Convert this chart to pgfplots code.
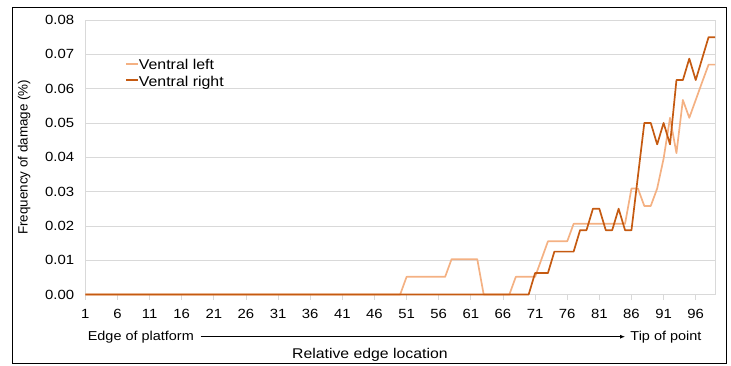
\documentclass[border=0pt]{standalone}
\usepackage{pgfplots}
\pgfplotsset{compat=1.18}
\usepackage{pgfplotstable}
\usepackage{fontspec}
\setmainfont{Liberation Sans}[FakeStretch=1.12]
\newfontfamily\ylabfont{Liberation Sans}
\usetikzlibrary{arrows.meta}
\definecolor{lightor}{HTML}{F4B183}
\definecolor{darkor}{HTML}{C55A11}
\definecolor{gridc}{HTML}{D9D9D9}

\pgfplotstableread{
x left right
1 0 0
2 0 0
3 0 0
4 0 0
5 0 0
6 0 0
7 0 0
8 0 0
9 0 0
10 0 0
11 0 0
12 0 0
13 0 0
14 0 0
15 0 0
16 0 0
17 0 0
18 0 0
19 0 0
20 0 0
21 0 0
22 0 0
23 0 0
24 0 0
25 0 0
26 0 0
27 0 0
28 0 0
29 0 0
30 0 0
31 0 0
32 0 0
33 0 0
34 0 0
35 0 0
36 0 0
37 0 0
38 0 0
39 0 0
40 0 0
41 0 0
42 0 0
43 0 0
44 0 0
45 0 0
46 0 0
47 0 0
48 0 0
49 0 0
50 0 0
51 0.00515 0
52 0.00515 0
53 0.00515 0
54 0.00515 0
55 0.00515 0
56 0.00515 0
57 0.00515 0
58 0.0103 0
59 0.0103 0
60 0.0103 0
61 0.0103 0
62 0.0103 0
63 0 0
64 0 0
65 0 0
66 0 0
67 0 0
68 0.00515 0
69 0.00515 0
70 0.00515 0
71 0.00515 0.00625
72 0.0103 0.00625
73 0.0155 0.00625
74 0.0155 0.0125
75 0.0155 0.0125
76 0.0155 0.0125
77 0.0206 0.0125
78 0.0206 0.01875
79 0.0206 0.01875
80 0.0206 0.025
81 0.0206 0.025
82 0.0206 0.01875
83 0.0206 0.01875
84 0.0206 0.025
85 0.0206 0.01875
86 0.0309 0.01875
87 0.0309 0.0344
88 0.0258 0.05
89 0.0258 0.05
90 0.0309 0.04375
91 0.0396 0.05
92 0.0515 0.04375
93 0.0412 0.0625
94 0.0567 0.0625
95 0.0515 0.06875
96 0.0567 0.0625
97 0.0619 0.06875
98 0.067 0.075
99 0.067 0.075
}\datatable

\begin{document}
\begin{tikzpicture}
\begin{axis}[
  scale only axis, width=629.7pt, height=274.5pt,
  at={(85.3pt,-294.5pt)}, anchor=south west,
  xmin=1, xmax=99, ymin=0, ymax=0.08,
  xtick={1,6,...,96},
  ytick={0,0.01,0.02,0.03,0.04,0.05,0.06,0.07,0.08},
  scaled y ticks=false,
  yticklabel style={/pgf/number format/fixed, /pgf/number format/fixed zerofill, /pgf/number format/precision=2},
  /pgf/number format/assume math mode=true,
  ticklabel style={font=\fontsize{13.3}{15}\selectfont},
  ymajorgrids, grid style={gridc, line width=0.75pt},
  axis line style={gridc, line width=0.75pt},
  xtick style={gridc, line width=0.75pt},
  ytick style={draw=none},
  tick align=outside, xtick pos=bottom, ytick pos=left,
  major tick length=5pt,
  xticklabel style={anchor=north, inner sep=0pt, yshift=-10pt},
  yticklabel style={anchor=east, inner sep=0pt, xshift=-6pt},
  xlabel={Relative edge location},
  ylabel={Frequency of damage (\%)},
  every axis x label/.style={at={(axis description cs:0.452,-0.2204)}, anchor=center, font=\fontsize{14.1}{16}\selectfont},
  every axis y label/.style={at={(axis description cs:-0.097,0.5)}, anchor=center, rotate=90, font=\ylabfont\fontsize{13.4}{16}\selectfont},
  legend style={at={(0.063,0.857)}, anchor=north west, draw=none, fill=none, inner sep=0pt, row sep=1.7pt, font=\fontsize{14.2}{16}\selectfont, nodes={inner sep=0pt, text height=10.5pt, text depth=4pt}},
  legend cell align=left,
  legend image code/.code={\draw[#1, line width=1.7pt] (0pt,3pt) -- (12pt,3pt);},
  clip=false,
]
\addplot[lightor, line width=1.7pt, line join=round, no markers] table[x=x, y=left] {\datatable};
\addlegendentry{Ventral left}
\addplot[darkor, line width=1.7pt, line join=round, no markers] table[x=x, y=right] {\datatable};
\addlegendentry{Ventral right}
\end{axis}
\draw[black, line width=0.75pt] (12pt,-7pt) rectangle (726pt,-363pt);
\draw[black, line width=0.75pt, -{Latex[length=5pt,width=4pt]}] (200.5pt,-336.7pt) -- (625pt,-336.7pt);
\node[anchor=west, inner sep=0pt, font=\fontsize{12.9}{15}\selectfont] at (87.6pt,-336.7pt) {Edge of platform};
\node[anchor=east, inner sep=0pt, font=\fontsize{12.9}{15}\selectfont] at (701.6pt,-336.7pt) {Tip of point};
\pgfresetboundingbox
\useasboundingbox (0pt,0pt) rectangle (731pt,-365pt);
\end{tikzpicture}
\end{document}
